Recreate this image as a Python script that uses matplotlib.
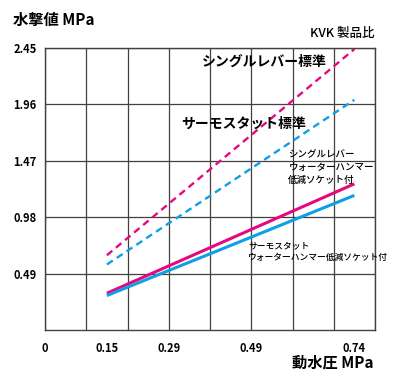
import matplotlib
matplotlib.use("Agg")
import matplotlib.pyplot as plt
import numpy as np

plt.rcParams["font.family"] = ["Noto Sans CJK JP", "DejaVu Sans"]

# 横軸 (動水圧) の目盛と、グリッド上での位置
press_ticks = [0, 0.15, 0.29, 0.49, 0.74]
press_pos = [0, 1.5, 3, 5, 7.5]
yticks = [0.49, 0.98, 1.47, 1.96, 2.45]

# 各線の両端 (動水圧 MPa -> 水撃値 MPa)
press = [0.15, 0.74]
lever_std = [0.65, 2.44]
thermo_std = [0.57, 2.00]
lever_socket = [0.32, 1.27]
thermo_socket = [0.30, 1.17]

PINK = "#e5097f"
BLUE = "#0ea0e6"
GRID = "#473e3e"

fig = plt.figure(figsize=(4.0, 3.87), dpi=100)
ax = fig.add_axes([0.1125, 0.147, 0.825, 0.729])


def pos(p):
    return np.interp(p, press_ticks, press_pos)


ax.plot(pos(press), lever_std, color=PINK, lw=1.7, dashes=(3.0, 2.0))
ax.plot(pos(press), thermo_std, color=BLUE, lw=1.7, dashes=(3.0, 2.0))
ax.plot(pos(press), lever_socket, color=PINK, lw=2.2, solid_capstyle="butt")
ax.plot(pos(press), thermo_socket, color=BLUE, lw=2.2, solid_capstyle="butt")

ax.set_xlim(0, 8)
ax.set_ylim(0, 2.45)
ax.set_xticks(range(9))
ax.set_xticklabels([""] * 9)
ax.set_yticks(yticks)
ax.set_yticklabels([f"{v:.2f}" for v in yticks], fontsize=8, fontweight="bold")
ax.tick_params(length=0, pad=6)
ax.grid(True, color=GRID, lw=0.9)
for s in ax.spines.values():
    s.set_color(GRID)
    s.set_linewidth(1.0)
for p in press_ticks:
    ax.text(pos(p), -0.1, f"{p:g}", ha="center", va="top", fontsize=8,
            fontweight="bold")

fig.text(0.033, 0.948, "水撃値 MPa", fontsize=11, fontweight="bold", va="center")
fig.text(0.935, 0.913, "KVK 製品比", fontsize=9, fontweight="medium",
         ha="right", va="center")
fig.text(0.933, 0.062, "動水圧 MPa", fontsize=11, fontweight="bold",
         ha="right", va="center")

ax.text(3.8, 2.33, "シングルレバー標準", fontsize=10, fontweight="bold", va="center")
ax.text(3.3, 1.79, "サーモスタット標準", fontsize=10, fontweight="bold", va="center")
ax.text(5.9, 1.41, "シングルレバー\nウォーターハンマー\n低減ソケット付", fontsize=6.8,
        fontweight="medium", va="center", linespacing=1.5)
ax.text(4.92, 0.68, "サーモスタット\nウォーターハンマー低減ソケット付", fontsize=6.3,
        fontweight="medium", va="center", linespacing=1.45)

fig.savefig("out.png", dpi=100)
